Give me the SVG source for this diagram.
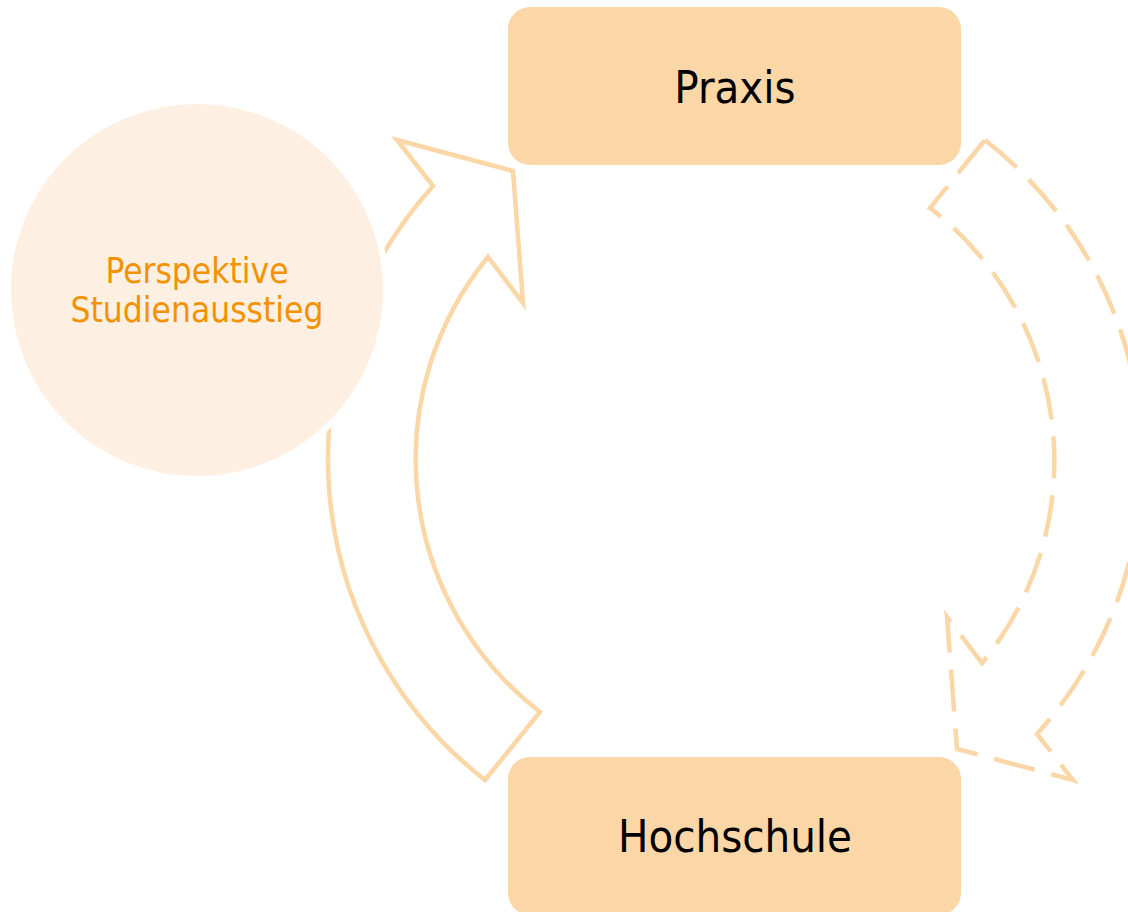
<svg xmlns="http://www.w3.org/2000/svg" width="1128" height="912" viewBox="0 0 1128 912">
<defs>
<style>
.arrow{fill:#ffffff;stroke:#FBD6A6;stroke-width:4.5;stroke-linejoin:miter}
.dashed{stroke-dasharray:42 17}
.box{fill:#FBD6A6}
.lbl{font-family:"DejaVu Sans Condensed","DejaVu Sans",sans-serif;font-stretch:condensed;text-anchor:middle}
</style>
<path id="cyc" d="M 485,780 A 407 407 0 0 1 433,186 L 397,140 L 513,171 L 523,303 L 488,257 A 319 319 0 0 0 540,712 Z"/>
</defs>
<rect width="1128" height="912" fill="#ffffff"/>
<g id="connectors">
<use href="#cyc" class="arrow"/>
<use href="#cyc" class="arrow dashed" transform="rotate(180 735 460)"/>
</g>
<g id="circle-perspektive">
<circle cx="197" cy="290" r="189" fill="#FDF0E2" stroke="#ffffff" stroke-width="6"/>
<text class="lbl" x="197" y="283" font-size="35" fill="#F39200">Perspektive</text>
<text class="lbl" x="197" y="322" font-size="35" fill="#F39200">Studienausstieg</text>
</g>
<g id="node-praxis">
<rect class="box" x="508" y="7" width="453" height="158" rx="22"/>
<text class="lbl" x="735" y="103" font-size="45" fill="#000000">Praxis</text>
</g>
<g id="node-hochschule">
<rect class="box" x="508" y="757" width="453" height="158" rx="22"/>
<text class="lbl" x="735" y="852" font-size="45" fill="#000000">Hochschule</text>
</g>
</svg>
